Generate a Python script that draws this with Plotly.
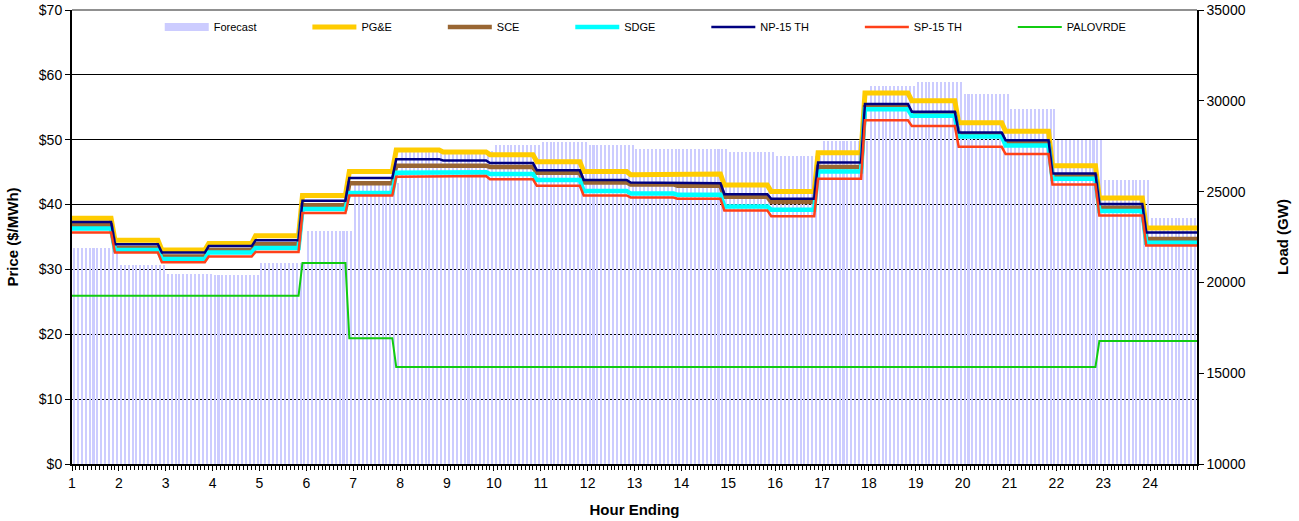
import plotly.graph_objects as go

# ---------------- data ----------------
hours = list(range(1, 25))
tick_labels = [str(h) for h in hours]

forecast_load = [21880, 20960, 20450, 20390, 21070, 22830, 25470, 27180, 27240, 27570, 27730, 27570,
                 27350, 27350, 27160, 26980, 27800, 30830, 31035, 30370, 29550, 27840, 25640, 23550]

pge = [37.9, 34.5, 33.0, 34.0, 35.2, 41.4, 45.1, 48.4, 48.1, 47.7, 46.6, 45.1,
       44.6, 44.7, 43.0, 42.0, 48.0, 57.2, 56.0, 52.6, 51.3, 46.0, 41.0, 36.4]
sce = [36.8, 33.3, 32.0, 33.0, 33.9, 39.9, 43.3, 46.0, 46.0, 45.8, 44.9, 43.4,
       43.1, 42.9, 41.2, 40.4, 45.8, 55.0, 54.0, 50.8, 49.5, 44.4, 39.5, 34.7]
sdge = [36.3, 33.0, 31.6, 32.6, 33.3, 39.3, 41.8, 44.9, 45.0, 44.7, 43.8, 42.1,
        41.7, 41.5, 39.7, 39.2, 45.1, 54.7, 53.7, 50.5, 49.1, 44.0, 39.0, 34.1]
np15 = [37.3, 33.9, 32.6, 33.6, 34.5, 40.6, 44.1, 47.0, 46.8, 46.4, 45.3, 43.8,
        43.4, 43.3, 41.6, 40.9, 46.5, 55.5, 54.3, 51.1, 49.9, 44.8, 40.1, 35.7]
sp15 = [35.7, 32.6, 31.1, 32.0, 32.7, 38.7, 41.4, 44.3, 44.4, 43.9, 42.9, 41.4,
        41.1, 40.9, 39.1, 38.2, 44.0, 53.0, 52.1, 48.9, 47.8, 43.1, 38.3, 33.7]
palovrde = [25.95, 25.95, 25.95, 25.95, 25.95, 31.0, 19.4, 14.96, 14.96, 14.96, 14.96, 14.96,
            14.96, 14.96, 14.96, 14.96, 14.96, 14.96, 14.96, 14.96, 14.96, 14.96, 18.96, 18.96]

INTERVALS = 12  # 5-minute intervals per hour

# ---------------- helpers ----------------
def step_xy(values):
    xs, ys = [], []
    for h, v in zip(hours, values):
        xs += [h - 1 / INTERVALS, (h + 1 - 2 / INTERVALS) if h < hours[-1] else h + 1]
        ys += [v, v]
    return xs, ys

bar_x, bar_y = [], []
for h, v in zip(hours, forecast_load):
    for k in range(INTERVALS):
        bar_x.append(h + (k + 0.5) / INTERVALS)
        bar_y.append(v)

FONT = "Arial, Liberation Sans, sans-serif"
PAD = "\u00a0" * 15

fig = go.Figure()

# forecast bars on the load axis (drawn underneath)
fig.add_trace(go.Bar(x=bar_x, y=bar_y, width=0.52 / INTERVALS, marker=dict(color="#CCCCFF", line=dict(width=0)),
                     name="Forecast", showlegend=False, yaxis="y"))
# legend entry for the forecast (wide swatch like the original)
fig.add_trace(go.Scatter(x=[None], y=[None], mode="lines", line=dict(color="#CCCCFF", width=8),
                         name="Forecast" + PAD, yaxis="y2"))

series = [
    ("PG&E", pge, "#FFCC00", 5),
    ("SCE", sce, "#996633", 4.5),
    ("SDGE", sdge, "#00FFFF", 4.5),
    ("NP-15 TH", np15, "#000080", 2.5),
    ("SP-15 TH", sp15, "#FF4019", 2.5),
    ("PALOVRDE", palovrde, "#11CC11", 2),
]
for name, vals, color, w in series:
    xs, ys = step_xy(vals)
    fig.add_trace(go.Scatter(x=xs, y=ys, mode="lines", line=dict(color=color, width=w),
                             name=name + (PAD if name != "PALOVRDE" else ""), yaxis="y2"))

fig.update_layout(
    width=1299, height=521,
    margin=dict(l=72, r=102, t=10, b=57, autoexpand=False),
    paper_bgcolor="white", plot_bgcolor="white",
    font=dict(family=FONT, size=14, color="black"),
    bargap=0,
    showlegend=True,
    legend=dict(orientation="h", x=0.078, xanchor="left", y=0.9626, yanchor="middle",
                font=dict(size=11, family=FONT), itemwidth=44, bgcolor="rgba(0,0,0,0)",
                traceorder="normal"),
    xaxis=dict(range=[1, 25], tickmode="array", tickvals=hours, ticktext=tick_labels,
               ticks="outside", ticklen=5, tickcolor="black", showline=True, linecolor="black",
               linewidth=1.5, showgrid=False, zeroline=False, automargin=False,
               minor=dict(dtick=1 / INTERVALS, tick0=1, ticks="outside", ticklen=4, tickcolor="black",
                          showgrid=False),
               title=dict(text="<b>Hour Ending</b>", font=dict(size=15), standoff=15)),
    yaxis=dict(range=[10000, 35000], dtick=5000, tickformat="d", side="right", ticks="outside", ticklen=5,
               tickcolor="black", showline=True, linecolor="black", linewidth=1.5,
               showgrid=False, zeroline=False, automargin=False,
               title=dict(text="<b>Load (GW)</b>", font=dict(size=15), standoff=33)),
    yaxis2=dict(range=[0, 70], dtick=10, tickprefix="$", side="left", overlaying="y",
                ticks="outside", ticklen=5, tickcolor="black", showline=True, linecolor="black",
                linewidth=2, showgrid=True, gridcolor="black", gridwidth=1, zeroline=False,
                automargin=False,
                title=dict(text="<b>Price ($/MWh)</b>", font=dict(size=15), standoff=17)),
    shapes=[dict(type="line", xref="paper", yref="paper", x0=0, x1=1, y0=1, y1=1,
                 line=dict(color="#909090", width=2))],
)

fig.write_html("out.html", config={"displayModeBar": False},
               post_script="document.body.style.margin='0';")
